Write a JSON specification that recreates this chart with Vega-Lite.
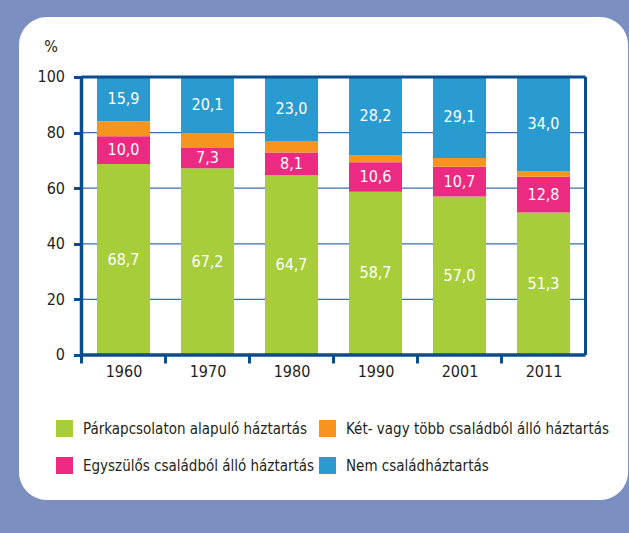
{
  "$schema": "https://vega.github.io/schema/vega-lite/v6.json",
  "width": 609,
  "height": 483,
  "autosize": {"type": "none"},
  "padding": {"left": 19, "top": 17, "right": 1, "bottom": 33},
  "background": "#7b8fc0",
  "config": {
    "view": {"fill": "white", "stroke": null, "cornerRadius": 28},
    "font": "DejaVu Sans Condensed, DejaVu Sans, sans-serif",
    "locale": {"number": {"decimal": ",", "thousands": " ", "grouping": [3], "currency": ["", " Ft"]}}
  },
  "data": {
    "values": [
      {"year": "1960", "cat": "Párkapcsolaton alapuló háztartás", "value": 68.7},
      {"year": "1960", "cat": "Egyszülős családból álló háztartás", "value": 10.0},
      {"year": "1960", "cat": "Két- vagy több családból álló háztartás", "value": 5.4},
      {"year": "1960", "cat": "Nem családháztartás", "value": 15.9},
      {"year": "1970", "cat": "Párkapcsolaton alapuló háztartás", "value": 67.2},
      {"year": "1970", "cat": "Egyszülős családból álló háztartás", "value": 7.3},
      {"year": "1970", "cat": "Két- vagy több családból álló háztartás", "value": 5.4},
      {"year": "1970", "cat": "Nem családháztartás", "value": 20.1},
      {"year": "1980", "cat": "Párkapcsolaton alapuló háztartás", "value": 64.7},
      {"year": "1980", "cat": "Egyszülős családból álló háztartás", "value": 8.1},
      {"year": "1980", "cat": "Két- vagy több családból álló háztartás", "value": 4.2},
      {"year": "1980", "cat": "Nem családháztartás", "value": 23.0},
      {"year": "1990", "cat": "Párkapcsolaton alapuló háztartás", "value": 58.7},
      {"year": "1990", "cat": "Egyszülős családból álló háztartás", "value": 10.6},
      {"year": "1990", "cat": "Két- vagy több családból álló háztartás", "value": 2.5},
      {"year": "1990", "cat": "Nem családháztartás", "value": 28.2},
      {"year": "2001", "cat": "Párkapcsolaton alapuló háztartás", "value": 57.0},
      {"year": "2001", "cat": "Egyszülős családból álló háztartás", "value": 10.7},
      {"year": "2001", "cat": "Két- vagy több családból álló háztartás", "value": 3.2},
      {"year": "2001", "cat": "Nem családháztartás", "value": 29.1},
      {"year": "2011", "cat": "Párkapcsolaton alapuló háztartás", "value": 51.3},
      {"year": "2011", "cat": "Egyszülős családból álló háztartás", "value": 12.8},
      {"year": "2011", "cat": "Két- vagy több családból álló háztartás", "value": 1.9},
      {"year": "2011", "cat": "Nem családháztartás", "value": 34.0}
    ]
  },
  "layer": [
    {
      "data": {"values": [{"g": 20}, {"g": 40}, {"g": 60}, {"g": 80}]},
      "mark": {"type": "rule", "color": "#3b6faa", "strokeWidth": 1.2},
      "encoding": {
        "y": {"field": "g", "type": "quantitative"},
        "x": {"datum": "1960", "type": "nominal", "bandPosition": -0.2925},
        "x2": {"datum": "2011", "bandPosition": 1.2925}
      }
    },
    {
      "transform": [{"window": [{"op": "row_number", "as": "rn"}]}],
      "mark": {"type": "bar"},
      "encoding": {
        "x": {
          "field": "year", "type": "nominal",
          "scale": {"paddingInner": 0.369, "paddingOuter": 0.8095, "align": 0.5735},
          "axis": {
            "title": null, "labelAngle": 0, "labelAlign": "center", "offset": -145, "domain": false,
            "tickOffset": -42, "labelOffset": 42, "tickSize": 8, "tickWidth": 3, "tickColor": "#0b4c8c",
            "labelFontSize": 16, "labelColor": "#231f20", "labelPadding": 8
          }
        },
        "y": {
          "field": "value", "type": "quantitative", "stack": "zero",
          "scale": {"domain": [-52.16, 121.58], "nice": false, "zero": false},
          "axis": {
            "values": [0, 20, 40, 60, 80, 100], "offset": -62.5, "domain": false, "grid": false,
            "tickSize": 8, "tickWidth": 3, "tickColor": "#0b4c8c",
            "labelFontSize": 16, "labelColor": "#231f20", "labelPadding": 9,
            "title": "%", "titleAngle": 0, "titleAlign": "center", "titleBaseline": "middle",
            "titleX": -31, "titleY": 29, "titleFontSize": 16, "titleFontWeight": "normal", "titleColor": "#231f20"
          }
        },
        "order": {"field": "rn", "type": "quantitative", "sort": "ascending"},
        "color": {
          "field": "cat", "type": "nominal",
          "scale": {
            "domain": ["Párkapcsolaton alapuló háztartás", "Két- vagy több családból álló háztartás", "Egyszülős családból álló háztartás", "Nem családháztartás"],
            "range": ["#a8cd3a", "#f7941d", "#ec2a82", "#2a9bd0"]
          },
          "legend": {
            "title": null, "orient": "none", "legendX": 37, "legendY": 403,
            "direction": "horizontal", "columns": 2, "columnPadding": 4, "rowPadding": 20,
            "symbolType": "square", "symbolSize": 289, "symbolStrokeWidth": 0, "symbolOpacity": 1,
            "labelFontSize": 15, "labelColor": "#231f20", "labelOffset": 10, "labelLimit": 400, "padding": 0
          }
        }
      }
    },
    {
      "transform": [{"window": [{"op": "row_number", "as": "rn"}]}],
      "mark": {"type": "text", "baseline": "middle", "align": "center", "fontSize": 16, "color": "white"},
      "encoding": {
        "x": {"field": "year", "type": "nominal"},
        "y": {"field": "value", "type": "quantitative", "stack": "zero", "bandPosition": 0.5},
        "order": {"field": "rn", "type": "quantitative", "sort": "ascending"},
        "detail": {"field": "cat", "type": "nominal"},
        "text": {
          "condition": {"test": "datum.cat === 'Két- vagy több családból álló háztartás'", "value": ""},
          "field": "value", "type": "quantitative", "format": ".1f"
        }
      }
    },
    {
      "data": {"values": [{}]},
      "mark": {"type": "rule", "color": "#0b4c8c", "strokeWidth": 3},
      "encoding": {
        "y": {"datum": 100, "type": "quantitative"},
        "x": {"datum": "1960", "type": "nominal", "bandPosition": -0.2925},
        "x2": {"datum": "2011", "bandPosition": 1.2925}
      }
    },
    {
      "data": {"values": [{}]},
      "mark": {"type": "rule", "color": "#0b4c8c", "strokeWidth": 3.5},
      "encoding": {
        "y": {"datum": 0, "type": "quantitative"},
        "x": {"datum": "1960", "type": "nominal", "bandPosition": -0.2925},
        "x2": {"datum": "2011", "bandPosition": 1.2925}
      }
    },
    {
      "data": {"values": [{}]},
      "mark": {"type": "rule", "color": "#0b4c8c", "strokeWidth": 3.5},
      "encoding": {
        "x": {"datum": "1960", "type": "nominal", "bandPosition": -0.2925},
        "y": {"datum": 0, "type": "quantitative"},
        "y2": {"datum": 100}
      }
    },
    {
      "data": {"values": [{}]},
      "mark": {"type": "rule", "color": "#0b4c8c", "strokeWidth": 3},
      "encoding": {
        "x": {"datum": "2011", "type": "nominal", "bandPosition": 1.2925},
        "y": {"datum": 0, "type": "quantitative"},
        "y2": {"datum": 100}
      }
    }
  ]
}
